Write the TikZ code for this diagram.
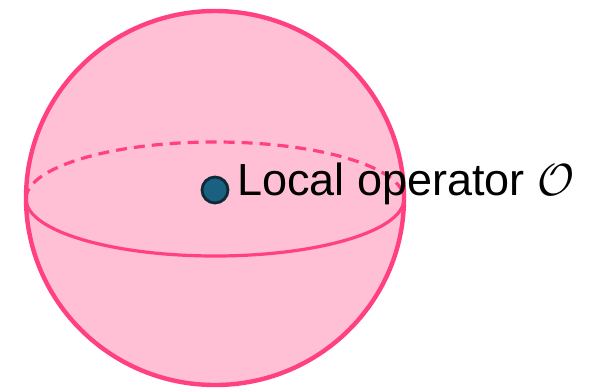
\RequirePackage{fix-cm}
\documentclass[tikz,border=0pt]{standalone}
\usepackage{fontspec}
\setmainfont{Liberation Sans}
\definecolor{spherefill}{HTML}{FFC0D5}
\definecolor{spherestroke}{HTML}{FF4082}
\definecolor{dotfill}{HTML}{1A6080}
\definecolor{dotborder}{HTML}{0E2A38}
\begin{document}
\begin{tikzpicture}[x=1pt,y=-1pt,
  outline/.style={draw=spherestroke,line width=4.4pt},
  equator/.style={draw=spherestroke,line width=3.2pt},
  dashedeq/.style={equator,dash pattern=on 11pt off 7pt},
  opdot/.style={circle,fill=dotfill,draw=dotborder,line width=2.8pt,minimum size=26pt,inner sep=0pt},
  label/.style={font=\fontsize{45}{50}\selectfont,anchor=base west,inner sep=0pt}]
\useasboundingbox (0,0) rectangle (600,391);
\coordinate (c) at (215,198);
\fill[spherefill] (c) ellipse [x radius=189,y radius=187];
\draw[equator] (404,199) arc[start angle=0,end angle=180,x radius=189,y radius=57];
\draw[dashedeq] (26,199) arc[start angle=180,end angle=360,x radius=189,y radius=57];
\draw[outline] (c) ellipse [x radius=189,y radius=187];
\node[opdot] (op) at (215,190) {};
\node[label] (txt) at (237,195) {Local operator $\mathcal{O}$};
\end{tikzpicture}
\end{document}
